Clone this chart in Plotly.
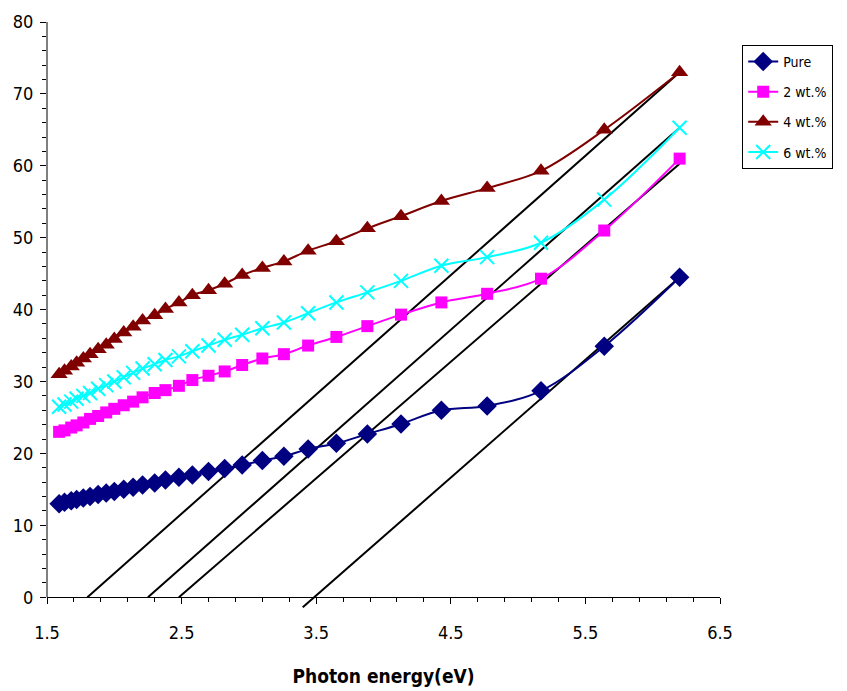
import plotly.graph_objects as go

# Photon energy (eV), wavelengths 780..200 nm step 20
energy = [1.59, 1.63, 1.68, 1.72, 1.77, 1.82, 1.88, 1.94, 2.00, 2.07,
          2.14, 2.21, 2.30, 2.38, 2.48, 2.58, 2.70, 2.82, 2.95, 3.10,
          3.26, 3.44, 3.65, 3.88, 4.13, 4.43, 4.77, 5.17, 5.64, 6.20]

pure = [13.0, 13.2, 13.4, 13.6, 13.8, 14.0, 14.3, 14.5, 14.7, 15.0,
        15.3, 15.6, 15.9, 16.3, 16.7, 17.0, 17.5, 17.9, 18.4, 19.0,
        19.6, 20.6, 21.4, 22.7, 24.1, 26.0, 26.6, 28.7, 34.9, 44.5]

wt2 = [23.0, 23.2, 23.6, 23.9, 24.3, 24.8, 25.2, 25.7, 26.2, 26.7,
       27.2, 27.8, 28.4, 28.8, 29.4, 30.2, 30.8, 31.4, 32.3, 33.2,
       33.8, 35.0, 36.2, 37.7, 39.3, 41.0, 42.2, 44.3, 51.0, 61.0]

wt4 = [31.0, 31.5, 32.1, 32.6, 33.2, 33.8, 34.5, 35.1, 35.9, 36.8,
       37.6, 38.5, 39.2, 40.1, 41.0, 42.0, 42.7, 43.6, 44.8, 45.8,
       46.7, 48.2, 49.5, 51.3, 53.0, 55.1, 56.9, 59.3, 65.0, 73.0]

wt6 = [26.5, 26.8, 27.2, 27.6, 28.0, 28.4, 29.0, 29.5, 30.0, 30.6,
       31.2, 31.8, 32.4, 33.0, 33.5, 34.2, 35.0, 35.8, 36.5, 37.4,
       38.2, 39.5, 41.0, 42.4, 44.0, 46.1, 47.3, 49.3, 55.3, 65.3]

# Tangent (extrapolation) lines: [start, end]
tangent_x = [[1.80, 6.20], [2.25, 6.20], [2.48, 6.20], [3.40, 6.20]]
tangent_y = [[0.0, 73.0], [0.0, 65.3], [0.0, 60.3], [-1.4, 44.5]]

x_tick_vals = [1.5, 2.5, 3.5, 4.5, 5.5, 6.5]
y_tick_vals = [0, 10, 20, 30, 40, 50, 60, 70, 80]

series = [
    ("Pure", pure, "#000080", dict(symbol="diamond", size=15)),
    ("2 wt.%", wt2, "#FF00FF", dict(symbol="square", size=12)),
    ("4 wt.%", wt4, "#800000", dict(symbol="triangle-up", size=15)),
    ("6 wt.%", wt6, "#00FFFF", dict(symbol="x-thin", size=14,
                                     line=dict(width=2, color="#00FFFF"))),
]

fig = go.Figure()

for tx, ty in zip(tangent_x, tangent_y):
    fig.add_trace(go.Scatter(x=tx, y=ty, mode="lines",
                             line=dict(color="black", width=2),
                             showlegend=False, hoverinfo="skip"))

for i, (name, vals, color, mk) in enumerate(series):
    fig.add_trace(go.Scatter(
        x=energy, y=vals, name=name, mode="lines+markers",
        line=dict(color=color, width=2, shape="spline", smoothing=1),
        marker=dict(color=color, **mk),
        legendgroup=f"g{i}",
    ))

YMIN, YMAX = -1.5, 80
font_narrow = "DejaVu Sans Condensed, Liberation Sans Narrow, Arial Narrow, sans-serif"

fig.update_layout(
    width=847, height=691,
    margin=dict(l=39, r=135, t=14, b=91),
    plot_bgcolor="white", paper_bgcolor="white",
    font=dict(family=font_narrow, color="black", size=18),
    showlegend=True,
    legend=dict(
        x=1.033, y=0.961, xanchor="left", yanchor="top",
        bordercolor="black", borderwidth=1,
        font=dict(family=font_narrow, size=14, color="black"),
        tracegroupgap=9,
        bgcolor="white",
    ),
    xaxis=dict(
        range=[1.5, 6.5], tickvals=x_tick_vals, tickformat=".1f",
        ticks="outside", ticklen=6, tickwidth=1, tickcolor="black",
        showline=True, linecolor="black", linewidth=1,
        showgrid=False, zeroline=False, automargin=False,
        anchor="free", position=(0 - YMIN) / (YMAX - YMIN),
        minor=dict(dtick=0.2, tick0=1.5, ticks="outside", ticklen=4,
                   tickcolor="black", showgrid=False),
        ticklabelstandoff=13,
        title=dict(text="<b>Photon energy(eV)</b>", standoff=27,
                   font=dict(family=font_narrow, size=19)),
    ),
    yaxis=dict(
        range=[YMIN, YMAX], tickvals=y_tick_vals,
        ticks="outside", ticklen=6, tickwidth=1, tickcolor="black",
        showline=False, showgrid=False, zeroline=False, automargin=False,
        minor=dict(dtick=2, tick0=0, ticks="outside", ticklen=4,
                   tickcolor="black", showgrid=False),
        ticklabelstandoff=3,
    ),
    shapes=[dict(type="line", xref="paper", yref="y", x0=0, x1=0,
                 y0=0, y1=YMAX, line=dict(color="black", width=1))],
)

fig.write_html("out.html")
